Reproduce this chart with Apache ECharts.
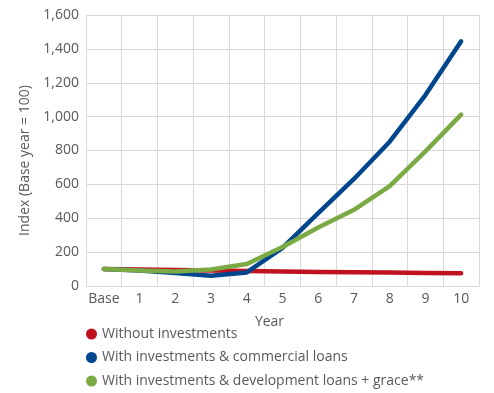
<!DOCTYPE html>
<html>
<head>
<meta charset="utf-8">
<script src="https://cdn.jsdelivr.net/npm/echarts@6/dist/echarts.min.js"></script>
<style>
html,body{margin:0;padding:0;background:#fff;}
#chart{width:494px;height:393px;}
</style>
</head>
<body>
<div id="chart"></div>
<script>
var categories = ['Base','1','2','3','4','5','6','7','8','9','10'];
var withoutInvestments = [100, 97, 95, 92, 89, 86, 83, 81, 79, 77, 75];
var commercialLoans = [100, 92, 76, 60, 80, 225, 430, 632, 852, 1127, 1445];
var developmentLoans = [100, 92, 86, 98, 130, 230, 345, 450, 590, 795, 1012];
var seriesNames = ['Without investments', 'With investments & commercial loans', 'With investments & development loans + grace**'];
var colors = ['#C0111F', '#00468C', '#7BAA45'];

var FONT = '"Open Sans", sans-serif';
var TXT = '#595959';
var chart = echarts.init(document.getElementById('chart'), null, {renderer: 'canvas'});
var data = [withoutInvestments, commercialLoans, developmentLoans];
chart.setOption({
  animation: false,
  color: colors,
  textStyle: {fontFamily: FONT},
  grid: {left: 86, right: 15, top: 15, bottom: 107, containLabel: false},
  legend: {
    orient: 'vertical',
    left: 86, top: 327,
    width: 400, height: 80,
    padding: 0,
    icon: 'circle',
    itemWidth: 11, itemHeight: 11,
    itemGap: 9.5,
    textStyle: {fontFamily: FONT, fontSize: 14, color: TXT, padding: [0,0,0,0]},
    data: seriesNames
  },
  xAxis: {
    type: 'category',
    data: categories,
    boundaryGap: true,
    name: 'Year',
    nameLocation: 'middle',
    nameGap: 29,
    nameTextStyle: {fontFamily: FONT, fontSize: 14, color: TXT, padding: [0, 26, 0, 0]},
    axisLine: {lineStyle: {color: '#d9d9d9', width: 1}},
    axisTick: {show: false},
    axisLabel: {fontFamily: FONT, fontSize: 14, color: TXT, margin: 6, interval: 0},
    splitLine: {show: true, lineStyle: {color: '#d9d9d9', width: 1}}
  },
  yAxis: {
    type: 'value',
    min: 0, max: 1600, interval: 200,
    name: 'Index (Base year = 100)',
    nameLocation: 'middle',
    nameGap: 54,
    nameTextStyle: {fontFamily: FONT, fontSize: 14, color: TXT, padding: [0, 20, 0, 0]},
    axisLine: {show: true, lineStyle: {color: '#d9d9d9', width: 1}},
    axisTick: {show: false},
    axisLabel: {
      fontFamily: FONT, fontSize: 14, color: TXT, margin: 7,
      formatter: function (v) { return v.toLocaleString('en-US'); }
    },
    splitLine: {show: true, lineStyle: {color: '#d9d9d9', width: 1}}
  },
  series: seriesNames.map(function (n, i) {
    return {
      name: n,
      type: 'line',
      data: data[i],
      showSymbol: false,
      symbol: 'circle',
      lineStyle: {width: 4.5, color: colors[i], cap: 'round', join: 'round'},
      itemStyle: {color: colors[i]},
      z: 2 + i
    };
  })
});
</script>
</body>
</html>
